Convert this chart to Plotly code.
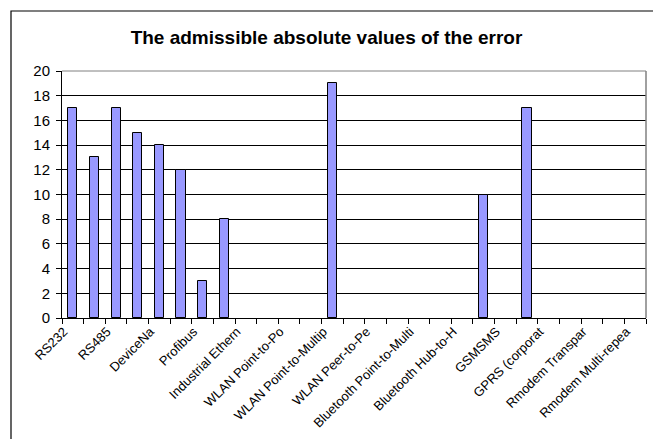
import plotly.graph_objects as go

# categories along the x axis (only every other one gets a visible label)
categories = [
    "RS232", "RS422", "RS485", "CAN", "DeviceNet", "Modbus", "Profibus",
    "Interbus", "Industrial Ethernet", "Ethernet/IP",
    "WLAN Point-to-Point", "WLAN Repeater", "WLAN Point-to-Multipoint",
    "WLAN Mesh", "WLAN Peer-to-Peer", "Bluetooth Point-to-Point",
    "Bluetooth Point-to-Multipoint", "Bluetooth Repeater", "Bluetooth Hub-to-Hub",
    "GSM CSD", "GSM SMS", "GPRS (public)", "GPRS (corporate)", "Rmodem Point-to-Point",
    "Rmodem Transparent", "Rmodem Repeater", "Rmodem Multi-repeater",
]
tick_labels = [
    "RS232", "RS485", "DeviceNa", "Profibus", "Industrial Ethern",
    "WLAN Point-to-Po", "WLAN Point-to-Multip", "WLAN Peer-to-Pe",
    "Bluetooth Point-to-Multi", "Bluetooth Hub-to-H", "GSMSMS",
    "GPRS (corporat", "Rmodem Transpar", "Rmodem Multi-repea",
]
error_values = [
    17, 13, 17, 15, 14, 12, 3, 8, None, None,
    None, None, 19, None, None, None, None, None, None,
    10, None, 17, None, None, None, None, None,
]

ticktext = []
for i, c in enumerate(categories):
    ticktext.append(tick_labels[i // 2] if i % 2 == 0 else "")

fig = go.Figure(go.Bar(
    x=categories, y=error_values, width=0.42,
    marker=dict(color="#9999ff", line=dict(color="black", width=1)),
))

fig.update_layout(
    width=653, height=439,
    paper_bgcolor="white", plot_bgcolor="white",
    margin=dict(l=62, r=7, t=71, b=121, autoexpand=False),
    font=dict(family="Liberation Sans, Arial", color="black"),
    showlegend=False, bargap=0,
    title=dict(text="<b>The admissible absolute values of the error</b>",
               x=0.5, xref="container", xanchor="center",
               y=1 - 37 / 439, yref="container", yanchor="middle",
               font=dict(size=19, color="black")),
)
fig.update_xaxes(
    type="category", tickmode="array", tickvals=categories, ticktext=ticktext,
    tickson="boundaries", ticks="outside", ticklen=5, tickcolor="black",
    tickangle=-45, tickfont=dict(size=13), ticklabelshift=-9,
    showline=True, linecolor="black", showgrid=False, automargin=False,
    range=[-0.5, len(categories) - 0.5],
)
fig.update_yaxes(
    range=[0, 20], dtick=2, ticks="outside", ticklen=5, tickcolor="black",
    tickfont=dict(size=15), ticklabelstandoff=3, showline=True, linecolor="black",
    showgrid=True, gridcolor="black", gridwidth=1, zeroline=False, automargin=False,
)

# plot area top/right border (grey) and the outer chart frame
fig.add_shape(type="line", xref="paper", yref="paper", x0=0, x1=1, y0=1, y1=1,
              line=dict(color="#808080", width=1))
fig.add_shape(type="line", xref="paper", yref="paper", x0=1, x1=1, y0=0, y1=1,
              line=dict(color="#808080", width=1.5))
fig.add_shape(type="rect", xref="paper", yref="paper",
              x0=(11 - 62) / 584, x1=1.03, y0=-0.55, y1=(318 - 11) / 247,
              line=dict(color="black", width=1.2))

# drop the browser's default body margin so the figure sits at the page corner
fig.write_html("out.html", config={"displayModeBar": False},
               post_script="document.body.style.margin='0';")
